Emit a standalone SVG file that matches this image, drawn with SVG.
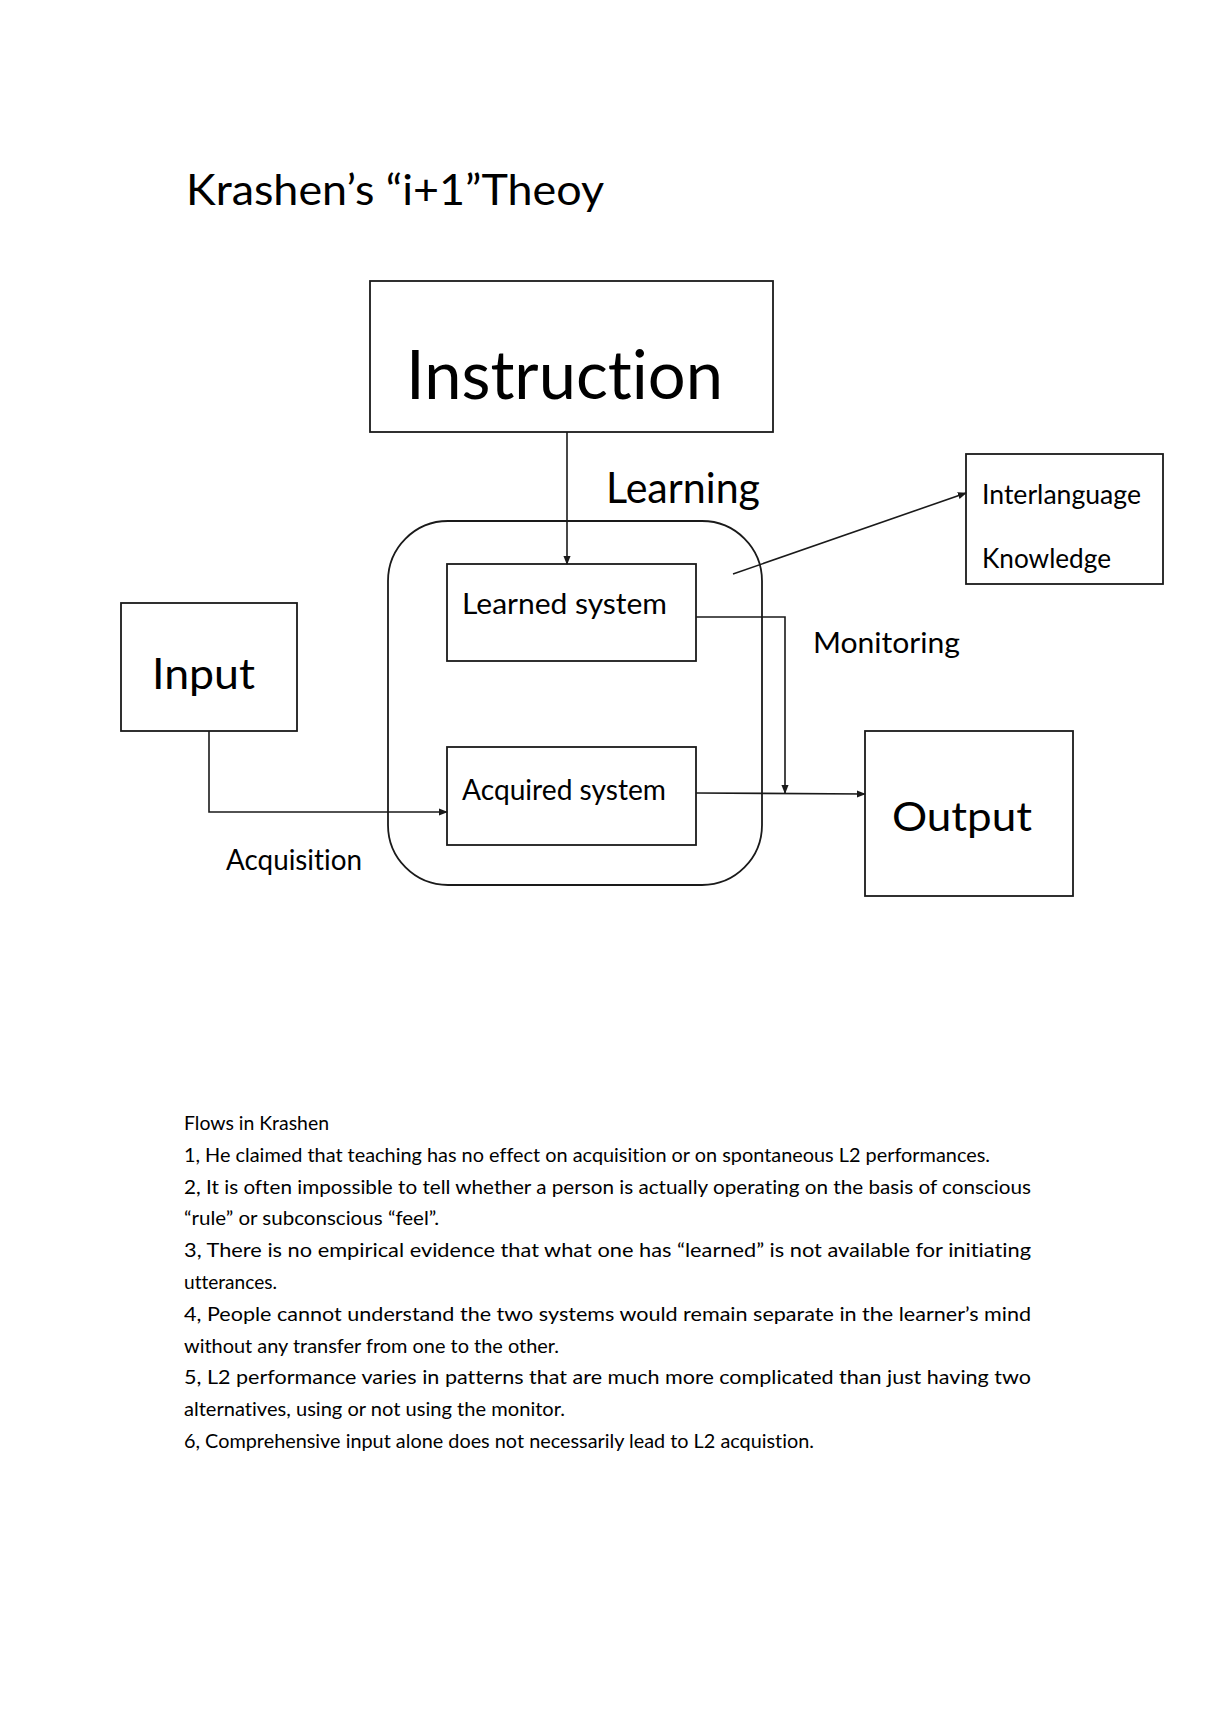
<svg xmlns="http://www.w3.org/2000/svg" width="1214" height="1719" viewBox="0 0 1214 1719">
<style>
text{font-family:Lato,"Open Sans","Liberation Sans",sans-serif;fill:#000;font-variant-ligatures:none;font-feature-settings:"liga" 0}
.box{fill:none;stroke:#1a1a1a;stroke-width:1.8}
.con{fill:none;stroke:#1a1a1a;stroke-width:1.6}
.body{font-size:19px}
</style>
<defs>
<marker id="ah" viewBox="0 0 10 10" refX="9" refY="5" markerWidth="9" markerHeight="9" markerUnits="userSpaceOnUse" orient="auto">
<path d="M0,1 L10,5 L0,9 Z" fill="#1a1a1a"/>
</marker>
</defs>
<rect width="1214" height="1719" fill="#fff"/>
<text x="186" y="205" font-size="43" textLength="418" lengthAdjust="spacingAndGlyphs">Krashen’s “i+1”Theoy</text>

<g id="instruction">
<rect class="box" x="370" y="281" width="403" height="151" stroke-width="2.2"/>
<text x="406" y="399" font-size="68" textLength="317" lengthAdjust="spacingAndGlyphs">Instruction</text>
</g>
<g id="system-container">
<rect class="box" x="388" y="521" width="374" height="364" rx="60" ry="60"/>
</g>
<g id="learned-system">
<rect class="box" x="447" y="564" width="249" height="97" stroke-width="2"/>
<text x="462" y="614" font-size="29" textLength="205" lengthAdjust="spacingAndGlyphs">Learned system</text>
</g>
<g id="acquired-system">
<rect class="box" x="447" y="747" width="249" height="98" stroke-width="2"/>
<text x="462" y="800" font-size="29" textLength="204" lengthAdjust="spacingAndGlyphs">Acquired system</text>
</g>
<g id="input">
<rect class="box" x="121" y="603" width="176" height="128" stroke-width="1.5"/>
<text x="152" y="689" font-size="43" textLength="103" lengthAdjust="spacingAndGlyphs">Input</text>
</g>
<g id="output">
<rect class="box" x="865" y="731" width="208" height="165" stroke-width="1.5"/>
<text x="892" y="831" font-size="41" textLength="140" lengthAdjust="spacingAndGlyphs">Output</text>
</g>
<g id="interlanguage">
<rect class="box" x="966" y="454" width="197" height="130" stroke-width="1.5"/>
<text x="982" y="504" font-size="27" textLength="159" lengthAdjust="spacingAndGlyphs">Interlanguage</text>
<text x="982" y="568" font-size="27" textLength="129" lengthAdjust="spacingAndGlyphs">Knowledge</text>
</g>

<g id="connectors">
<line class="con" x1="567" y1="432" x2="567" y2="564" marker-end="url(#ah)"/>
<polyline class="con" points="696,617 785,617 785,793" marker-end="url(#ah)"/>
<line class="con" x1="696" y1="793" x2="865" y2="794" marker-end="url(#ah)"/>
<polyline class="con" points="209,731 209,812 447,812" marker-end="url(#ah)"/>
<line class="con" x1="733" y1="574" x2="966" y2="493" stroke-width="2" marker-end="url(#ah)"/>
</g>

<g id="labels">
<text x="606" y="503" font-size="42" textLength="154" lengthAdjust="spacingAndGlyphs">Learning</text>
<text x="813" y="653" font-size="28" textLength="147" lengthAdjust="spacingAndGlyphs">Monitoring</text>
<text x="226" y="870" font-size="28" textLength="136" lengthAdjust="spacingAndGlyphs">Acquisition</text>
</g>

<g id="notes" class="body">
<text class="body" x="184" y="1130" textLength="145" lengthAdjust="spacingAndGlyphs">Flows in Krashen</text>
<text class="body" x="184" y="1162" textLength="806" lengthAdjust="spacingAndGlyphs">1, He claimed that teaching has no effect on acquisition or on spontaneous L2 performances.</text>
<text class="body" x="184" y="1194" textLength="847" lengthAdjust="spacingAndGlyphs">2, It is often impossible to tell whether a person is actually operating on the basis of conscious</text>
<text class="body" x="184" y="1225" textLength="255" lengthAdjust="spacingAndGlyphs">“rule” or subconscious “feel”.</text>
<text class="body" x="184" y="1257" textLength="847" lengthAdjust="spacingAndGlyphs">3, There is no empirical evidence that what one has “learned” is not available for initiating</text>
<text class="body" x="184" y="1289" textLength="93" lengthAdjust="spacingAndGlyphs">utterances.</text>
<text class="body" x="184" y="1321" textLength="847" lengthAdjust="spacingAndGlyphs">4, People cannot understand the two systems would remain separate in the learner’s mind</text>
<text class="body" x="184" y="1353" textLength="375" lengthAdjust="spacingAndGlyphs">without any transfer from one to the other.</text>
<text class="body" x="184" y="1384" textLength="847" lengthAdjust="spacingAndGlyphs">5, L2 performance varies in patterns that are much more complicated than just having two</text>
<text class="body" x="184" y="1416" textLength="381" lengthAdjust="spacingAndGlyphs">alternatives, using or not using the monitor.</text>
<text class="body" x="184" y="1448" textLength="630" lengthAdjust="spacingAndGlyphs">6, Comprehensive input alone does not necessarily lead to L2 acquistion.</text>
</g>
</svg>
